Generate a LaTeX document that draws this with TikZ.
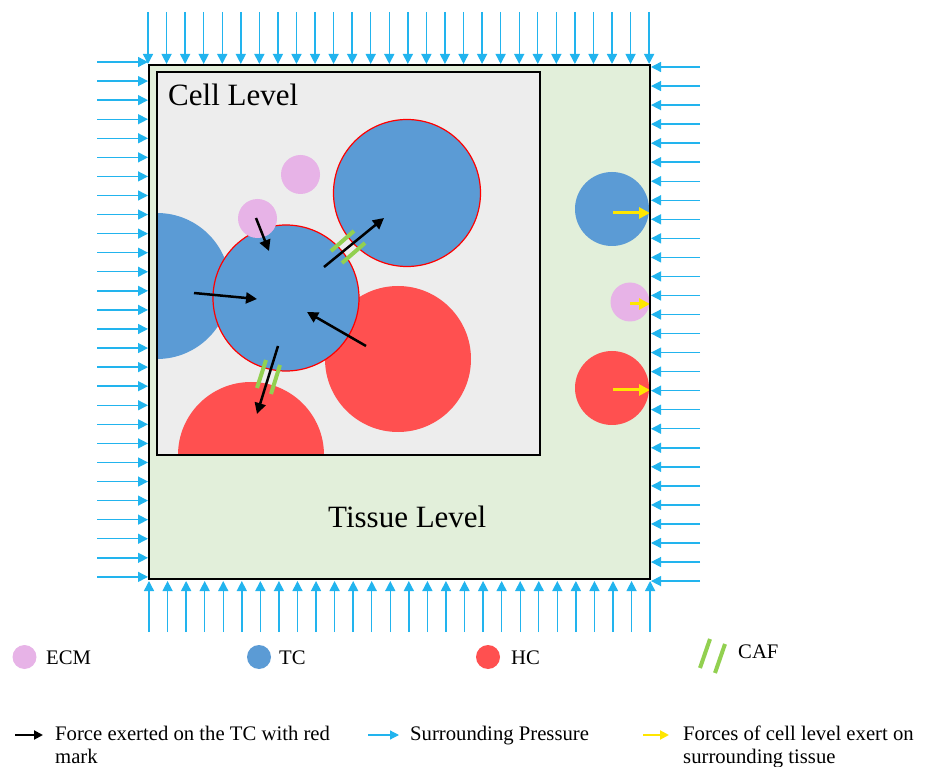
\documentclass[tikz,border=0pt]{standalone}
\usepackage{fontspec}
\setmainfont{Liberation Serif}
\usetikzlibrary{arrows.meta}

\definecolor{tcblue}{HTML}{5B9BD5}
\definecolor{hcred}{HTML}{FF5050}
\definecolor{ecmpink}{HTML}{E7B3E7}
\definecolor{cafgreen}{HTML}{92D050}
\definecolor{cellbg}{HTML}{EDEDED}
\definecolor{tissuebg}{HTML}{E2EFDA}
\definecolor{pressblue}{HTML}{22B4EE}
\definecolor{forceyellow}{HTML}{FFE600}
\definecolor{outlinered}{HTML}{FF0000}

\tikzset{
  pressure/.style={draw=pressblue, line width=1.4pt, -{Triangle[length=10pt,width=10pt]}},
  force/.style={draw=black, line width=2.5pt, -{Triangle[length=11pt,width=11pt]}},
  outforce/.style={draw=forceyellow, line width=3pt, -{Triangle[length=11pt,width=11pt]}},
  caf/.style={draw=cafgreen, line width=4pt},
  tc/.style={fill=tcblue},
  tcmark/.style={fill=tcblue, draw=outlinered, line width=1.2pt},
  hc/.style={fill=hcred},
  ecm/.style={fill=ecmpink},
  bigtext/.style={font=\fontsize{31}{36}\selectfont, anchor=base west, inner sep=0pt},
  legtext/.style={font=\fontsize{20.7}{23}\selectfont, anchor=base west, inner sep=0pt},
}

\begin{document}
\begin{tikzpicture}[x=1pt,y=-1pt]
\useasboundingbox (0,0) rectangle (927,767);

% tissue level box
\draw[fill=tissuebg, line width=2pt] (149,65) rectangle (650,579);

% surrounding pressure on all four sides (28 arrows each)
\foreach \i in {0,...,27}{
  \pgfmathsetmacro{\hx}{148+\i*18.56}
  \draw[pressure] (\hx,12) -- (\hx,64);
  \pgfmathsetmacro{\bx}{149+\i*18.56}
  \draw[pressure] (\bx,632) -- (\bx,581);
  \pgfmathsetmacro{\ly}{62+\i*19.07}
  \draw[pressure] (97,\ly) -- (148,\ly);
  \pgfmathsetmacro{\ry}{67+\i*19.04}
  \draw[pressure] (700,\ry) -- (651,\ry);
}

% cell level box with its cells
\fill[cellbg] (157,72) rectangle (540,455);
\begin{scope}
  \clip (157,72) rectangle (540,455);
  \fill[tc] (157,286) circle[radius=73pt];
  \fill[hc] (398,359) circle[radius=73pt];
  \fill[hc] (251,455) circle[radius=73pt];
  \filldraw[tcmark] (407,193) circle[radius=73.5pt];
  \filldraw[tcmark] (286,298) circle[radius=73pt];
  \fill[ecm] (300.5,174.5) circle[radius=19.5pt];
  \fill[ecm] (257.5,218.5) circle[radius=19.5pt];
\end{scope}
\draw[line width=1.5pt] (157,72) rectangle (540,455);

% forces on the marked tumour cell
\coordinate (f1s) at (256,218); \coordinate (f1e) at (269,251);
\coordinate (f2s) at (194,293); \coordinate (f2e) at (257,299);
\coordinate (f3s) at (366,346); \coordinate (f3e) at (307,312);
\coordinate (f4s) at (278,346); \coordinate (f4e) at (257,414);
\coordinate (f5s) at (324,267); \coordinate (f5e) at (384,218);
\draw[force] (f1s) -- (f1e);
\draw[force] (f2s) -- (f2e);
\draw[force] (f3s) -- (f3e);
\draw[force] (f4s) -- (f4e);
\draw[force] (f5s) -- (f5e);

% CAF links
\draw[caf] (331,251) -- (354,231);
\draw[caf] (342,263) -- (365,243);
\draw[caf] (257,388) -- (266,360);
\draw[caf] (271,394) -- (280,365);

% cells at the tissue boundary
\fill[tc] (612,209) circle[radius=37pt];
\fill[ecm] (630,302) circle[radius=19.5pt];
\fill[hc] (612,388) circle[radius=37pt];
\draw[outforce] (613,213) -- (650,213);
\draw[outforce] (630,304) -- (650,304);
\draw[outforce] (613,390) -- (650,390);
\draw[line width=2pt] (650,65) -- (650,579);

% labels
\node[bigtext] (celllabel) at (168,106) {Cell Level};
\node[bigtext] (tissuelabel) at (328,527) {Tissue Level};

% legend: cell types
\fill[ecm] (24.5,657) circle[radius=12pt];
\node[legtext] (lecm) at (46,664) {ECM};
\fill[tc] (259,657) circle[radius=12pt];
\node[legtext] (ltc) at (279,664) {TC};
\fill[hc] (488,657) circle[radius=12pt];
\node[legtext] (lhc) at (511,664) {HC};
\draw[caf] (700,668) -- (710,639);
\draw[caf] (715,673) -- (725,644);
\node[legtext] (lcaf) at (738,658) {CAF};

% legend: arrows
\coordinate (la1) at (15,735); \coordinate (la2) at (43,735);
\draw[draw=black, line width=2pt, -{Triangle[length=9pt,width=9pt]}] (la1) -- (la2);
\node[legtext] (lforce) at (55,740) {Force exerted on the TC with red};
\node[legtext] (lforceb) at (55,763) {mark};
\coordinate (lb1) at (368,735); \coordinate (lb2) at (399,735);
\draw[draw=pressblue, line width=1.2pt, -{Triangle[length=9pt,width=9pt]}] (lb1) -- (lb2);
\node[legtext] (lpress) at (410,740) {Surrounding Pressure};
\coordinate (lc1) at (643,735); \coordinate (lc2) at (669,735);
\draw[draw=forceyellow, line width=2pt, -{Triangle[length=9pt,width=9pt]}] (lc1) -- (lc2);
\node[legtext] (lout) at (683,740) {Forces of cell level exert on};
\node[legtext] (loutb) at (683,763) {surrounding tissue};
\end{tikzpicture}
\end{document}
